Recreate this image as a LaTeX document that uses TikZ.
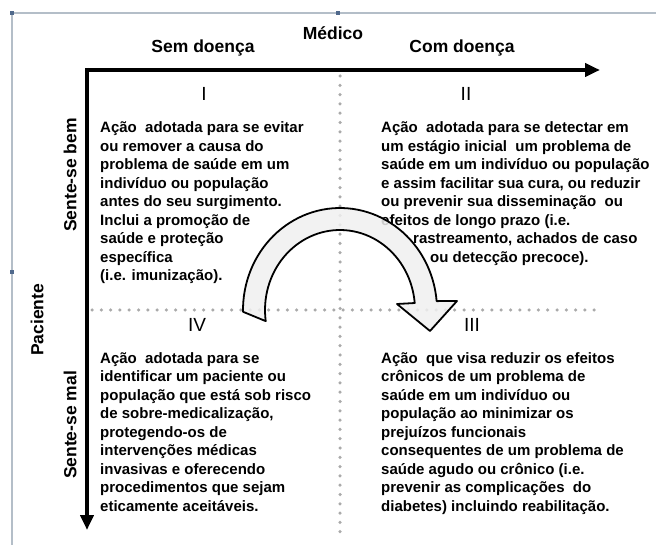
\documentclass[tikz,border=0pt]{standalone}
\usepackage{fontspec}
\setmainfont{Liberation Sans}
\usetikzlibrary{arrows.meta}
\definecolor{framec}{RGB}{180,190,200}
\definecolor{handlec}{RGB}{80,105,140}
\definecolor{dotc}{RGB}{170,170,170}
\definecolor{arrfill}{RGB}{240,240,240}
\begin{document}
\begin{tikzpicture}[x=1pt,y=-1pt,
 axis/.style={line width=4pt,-{Triangle[length=15pt,width=13pt]}},
 dotline/.style={dotc,line width=3.5pt,line cap=round,dash pattern=on 0pt off 9.3pt},
 head/.style={font=\fontsize{17.5}{20}\selectfont\bfseries,inner sep=0pt},
 roman/.style={font=\fontsize{19}{22}\selectfont,inner sep=0pt},
 para/.style={font=\fontsize{15}{18.5}\selectfont\bfseries,align=left,anchor=base west,inner sep=0pt},
 vlabel/.style={head,rotate=90},
 handle/.style={fill=handlec,minimum size=4pt,inner sep=0pt}]
\useasboundingbox (0,0) rectangle (656,545);
\fill[white] (0,0) rectangle (656,545);
% frame
\draw[framec,line width=1.5pt] (12,545) -- (12,13) -- (656,13);
\node[handle] (h1) at (12,13) {};
\node[handle] (h2) at (338,13) {};
\node[handle] (h3) at (12,272) {};
% dotted dividers
\coordinate (vt) at (340,76);
\coordinate (vb) at (340,540);
\coordinate (hl) at (92,310);
\coordinate (hr) at (596,310);
\draw[dotline] (vt) -- (vb);
\draw[dotline] (hl) -- (hr);
% axes
\coordinate (oh) at (85,70);
\coordinate (ov) at (87,68);
\coordinate (xe) at (600,70);
\coordinate (ye) at (87,530);
\draw[axis] (oh) -- (xe);
\draw[axis] (ov) -- (ye);
% headers
\node[head] (medico) at (333,33) {Médico};
\node[head] (sem) at (203,48) {Sem doença};
\node[head] (com) at (462,48) {Com doença};
\node[vlabel] (bem) at (70,175) {Sente-se bem};
\node[vlabel] (pac) at (37,320) {Paciente};
\node[vlabel] (mal) at (70,425) {Sente-se mal};
% roman numerals
\node[roman] (r1) at (204,94) {I};
\node[roman] (r2) at (466,94) {II};
\node[roman] (r4) at (197,325) {IV};
\node[roman] (r3) at (472,325) {III};
% paragraphs (anchored at the baseline of the last line)
\node[para] (q1) at (100,281) {Ação\ \ adotada para se evitar\\ou remover a causa do\\problema de saúde em um\\indivíduo ou população\\antes do seu surgimento.\\Inclui a promoção de\\saúde e proteção\\específica\\(i.e. imunização).};
\node[para] (q2) at (381,262.5) {Ação\ \ adotada para se detectar em\\um estágio inicial\ \ um problema de\\saúde em um indivíduo ou população\\e assim facilitar sua cura, ou reduzir\\ou prevenir sua disseminação\ \ ou\\efeitos de longo prazo (i.e.\\\hspace*{32pt}rastreamento, achados de caso\\\hspace*{49pt}ou detecção precoce).};
\node[para] (q4) at (100,511) {Ação\ \ adotada para se\\identificar um paciente ou\\população que está sob risco\\de sobre-medicalização,\\protegendo-os de\\intervenções médicas\\invasivas e oferecendo\\procedimentos que sejam\\eticamente aceitáveis.};
\node[para] (q3) at (381,511) {Ação\ \ que visa reduzir os efeitos\\crônicos de um problema de\\saúde em um indivíduo ou\\população ao minimizar os\\prejuízos funcionais\\consequentes de um problema de\\saúde agudo ou crônico (i.e.\\prevenir as complicações\ \ do\\diabetes) incluindo reabilitação.};
% curved block arrow
\draw[line width=1.8pt,fill=arrfill,fill opacity=0.85,line join=round]
  plot[domain=179:355,samples=60] ({340+97*cos(\x)},{310+102*sin(\x)})
  -- (457,301) -- (430,331) -- (397,304)
  -- plot[domain=355:172,samples=60] ({340+75*cos(\x)},{310+80*sin(\x)}) -- cycle;
\end{tikzpicture}
\end{document}
